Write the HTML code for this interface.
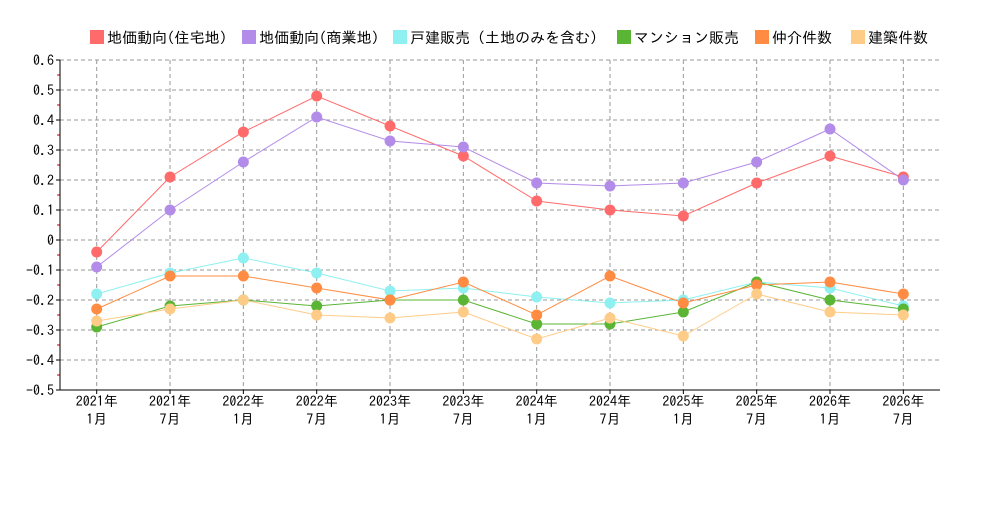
<!DOCTYPE html>
<html><head><meta charset="utf-8"><style>
body{margin:0;background:#fff;}
text{font-family:"IPAGothic","Noto Sans CJK JP",sans-serif;font-size:14px;fill:#000;}
</style></head><body>
<svg width="1000" height="500" xmlns="http://www.w3.org/2000/svg">
<g id="legend"></g>
<g id="grid"></g>
<g id="series"></g>
</svg>
<script>
const NS="http://www.w3.org/2000/svg";
const svg=document.querySelector('svg');
function el(t,a,p,txt){const e=document.createElementNS(NS,t);for(const k in a)e.setAttribute(k,a[k]);if(txt!==undefined)e.textContent=txt;(p||svg).appendChild(e);return e;}
const X=i=>96.7+i*73.33, Y=v=>240-300*v;
const g=document.getElementById('grid');
for(let k=-5;k<=6;k++){const y=Y(k/10);
 el('line',{x1:60,x2:940,y1:y,y2:y,stroke:'#999','stroke-dasharray':'4,3'},g);
 el('line',{x1:56,x2:60,y1:y,y2:y,stroke:'#000'},g);
 if(k<6) el('line',{x1:57,x2:60,y1:y-15,y2:y-15,stroke:'#c00'},g);
 const lbl=k===0?'0':(k/10).toFixed(1);
 el('text',{x:54,y:y+5,'text-anchor':'end'},g,lbl);}
const cats=[];for(let yr=2021;yr<=2026;yr++){cats.push([yr,1]);cats.push([yr,7]);}
cats.forEach((c,i)=>{const x=X(i);
 el('line',{x1:x,x2:x,y1:60,y2:390,stroke:'#999','stroke-dasharray':'4,3'},g);
 el('line',{x1:x,x2:x,y1:390,y2:394,stroke:'#000'},g);
 el('text',{x:x,y:406,'text-anchor':'middle'},g,c[0]+'年');
 el('text',{x:x,y:424,'text-anchor':'middle'},g,c[1]+'月');});
el('line',{x1:60,x2:60,y1:60,y2:390,stroke:'#000'},g);
el('line',{x1:60,x2:940,y1:390,y2:390,stroke:'#000'},g);
const S=[
['地価動向(住宅地)','#ff6b6b',[-0.04,0.21,0.36,0.48,0.38,0.28,0.13,0.10,0.08,0.19,0.28,0.21]],
['地価動向(商業地)','#b38be8',[-0.09,0.10,0.26,0.41,0.33,0.31,0.19,0.18,0.19,0.26,0.37,0.20]],
['戸建販売（土地のみを含む）','#8ef0f0',[-0.18,-0.11,-0.06,-0.11,-0.17,-0.16,-0.19,-0.21,-0.20,-0.14,-0.16,-0.22]],
['マンション販売','#5ab535',[-0.29,-0.22,-0.20,-0.22,-0.20,-0.20,-0.28,-0.28,-0.24,-0.14,-0.20,-0.23]],
['仲介件数','#ff8c42',[-0.23,-0.12,-0.12,-0.16,-0.20,-0.14,-0.25,-0.12,-0.21,-0.15,-0.14,-0.18]],
['建築件数','#ffcc88',[-0.27,-0.23,-0.20,-0.25,-0.26,-0.24,-0.33,-0.26,-0.32,-0.18,-0.24,-0.25]]];
const sg=document.getElementById('series');
S.forEach(s=>{el('polyline',{points:s[2].map((v,i)=>X(i)+','+Y(v)).join(' '),fill:'none',stroke:s[1],'stroke-width':1},sg);});
S.forEach(s=>{s[2].forEach((v,i)=>el('circle',{cx:X(i),cy:Y(v),r:5.5,fill:s[1]},sg));});
const lg=document.getElementById('legend');
const lx=[90,242,393,617,755,851];
S.forEach((s,i)=>{el('rect',{x:lx[i],y:30,width:14,height:14,fill:s[1]},lg);
 el('text',{x:lx[i]+17,y:43,style:'font-size:15px'},lg,s[0]);});
</script>
</body></html>
